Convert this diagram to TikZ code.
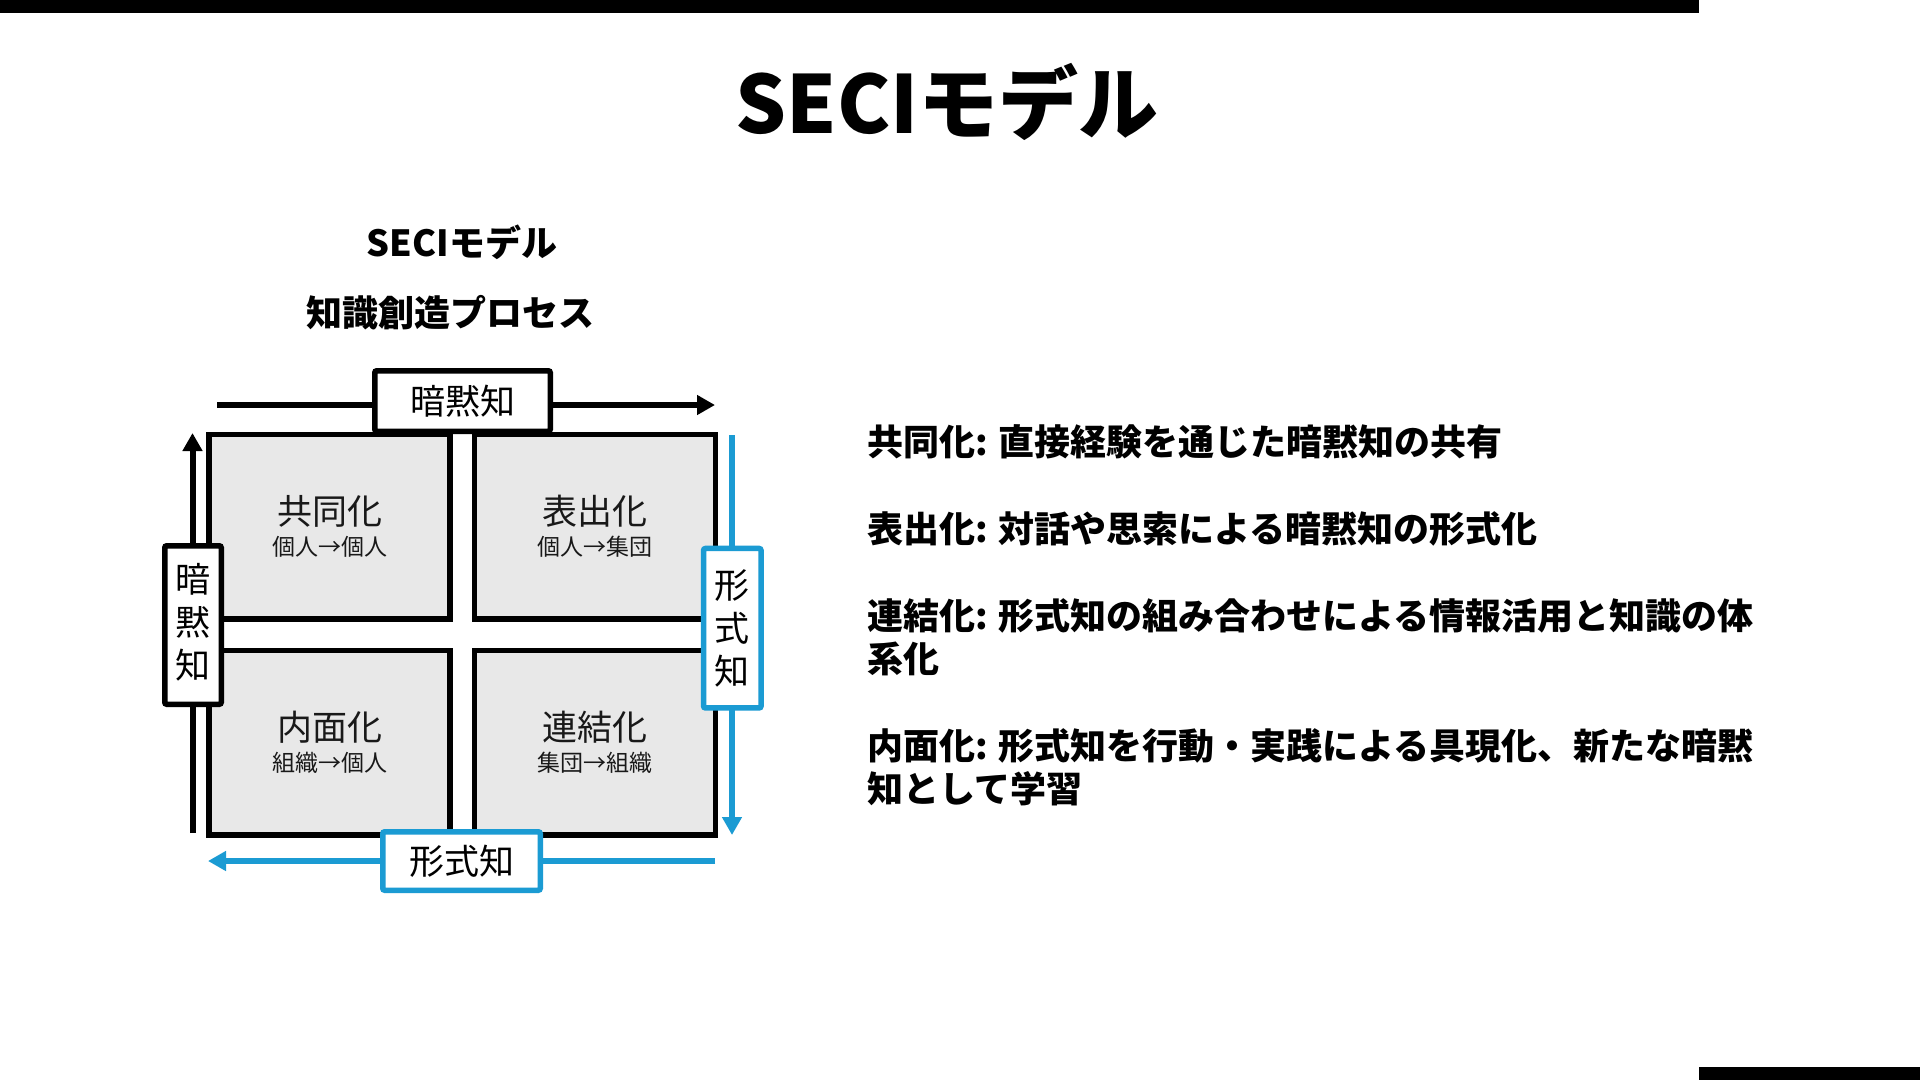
\documentclass[tikz,border=0pt]{standalone}
\usepackage{fontspec}
\setmainfont{Noto Sans CJK JP}
\usetikzlibrary{arrows.meta}
\definecolor{accblue}{RGB}{27,155,211}
\definecolor{quadgray}{RGB}{232,232,232}
\tikzset{
  quad/.style={draw=black, line width=5.5pt, fill=quadgray, minimum width=241pt, minimum height=184.5pt, inner sep=0pt},
  blkbox/.style={draw=black, line width=5.5pt, fill=white, rounded corners=2pt, inner sep=0pt, align=center, font=\fontsize{35}{43}\selectfont},
  blubox/.style={blkbox, draw=accblue},
  qtitle/.style={inner sep=0pt, font=\fontsize{35}{42}\selectfont, text=black!90},
  qsub/.style={inner sep=0pt, font=\fontsize{23}{28}\selectfont, text=black!90},
  blkarr/.style={line width=6pt, draw=black, -{Triangle[length=18pt,width=19pt]}},
  bluarr/.style={blkarr, draw=accblue, -{Triangle[length=18pt,width=19pt,color=accblue]}},
  desc/.style={inner sep=0pt, anchor=west, align=left, font=\fontsize{36}{43}\selectfont\bfseries},
}
\begin{document}
\begin{tikzpicture}[x=1pt,y=-1pt]
\useasboundingbox (0,0) rectangle (1920,1080);
\fill[white] (0,0) rectangle (1920,1080);
% bars
\fill[black] (0,0) rectangle (1699,13);
\fill[black] (1699,1067) rectangle (1920,1080);
% title
\node[inner sep=0pt, font=\fontsize{80}{88}\selectfont\bfseries] (title) at (947,102) {SECIモデル};
\node[inner sep=0pt, font=\fontsize{36}{40}\selectfont\bfseries] (sub1) at (462,242) {SECIモデル};
\node[inner sep=0pt, font=\fontsize{36}{40}\selectfont\bfseries] (sub2) at (450,313) {知識創造プロセス};
% quadrants
\node[quad] (tl) at (329.5,526.75) {};
\node[quad] (tr) at (595,526.75) {};
\node[quad] (bl) at (329.5,742.75) {};
\node[quad] (br) at (595,742.75) {};
\node[qtitle] (tlt) at (329.5,511) {共同化};
\node[qsub] (tls) at (329.5,547) {個人→個人};
\node[qtitle] (trt) at (595,511) {表出化};
\node[qsub] (trs) at (595,547) {個人→集団};
\node[qtitle] (blt) at (329.5,727) {内面化};
\node[qsub] (bls) at (329.5,763) {組織→個人};
\node[qtitle] (brt) at (595,727) {連結化};
\node[qsub] (brs) at (595,763) {集団→組織};
% arrows
\coordinate (ta) at (217,405);
\coordinate (tb) at (715,405);
\coordinate (la) at (192.5,833);
\coordinate (lb) at (192.5,433);
\coordinate (ra) at (732,435);
\coordinate (rb) at (732,835);
\coordinate (ba) at (715,861);
\coordinate (bb) at (208,861);
\draw[blkarr] (ta) -- (tb);
\draw[blkarr] (la) -- (lb);
\draw[bluarr] (ra) -- (rb);
\draw[bluarr] (ba) -- (bb);
% label boxes
\node[blkbox, minimum width=175.5pt, minimum height=60.5pt] (tacit) at (462.5,401) {暗黙知};
\node[blkbox, minimum width=56.5pt, minimum height=158.5pt] (tacitv) at (193,625) {};
\node[inner sep=0pt, align=center, font=\fontsize{35}{43}\selectfont] (tacitvt) at (193,622.5) {暗\\黙\\知};
\node[blubox, minimum width=57.5pt, minimum height=159.5pt] (explv) at (732.3,628.2) {形\\式\\知};
\node[blubox, minimum width=157.5pt, minimum height=58.5pt] (expl) at (461.5,861) {形式知};
% descriptions
\node[desc] (d1) at (867,442) {共同化: 直接経験を通じた暗黙知の共有};
\node[desc] (d2) at (867,529) {表出化: 対話や思索による暗黙知の形式化};
\node[desc] (d3) at (867,637.5) {連結化: 形式知の組み合わせによる情報活用と知識の体\\系化};
\node[desc] (d4) at (867,767.5) {内面化: 形式知を行動・実践による具現化、新たな暗黙\\知として学習};
\end{tikzpicture}
\end{document}
